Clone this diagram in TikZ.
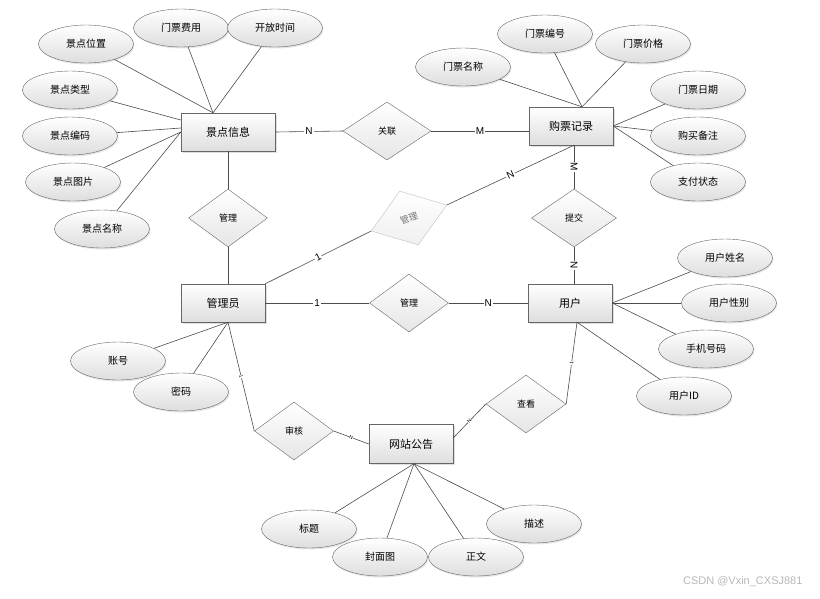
\documentclass[tikz,border=0pt]{standalone}
\usepackage{fontspec}
\setmainfont{Liberation Sans}
\newfontfamily\cjk{Noto Sans CJK SC}
\usetikzlibrary{shapes.geometric, positioning, calc, shadows}

\begin{document}
\begin{tikzpicture}[
    x=1pt, y=-1pt,
    entity/.style={rectangle, draw=black!60, top color=white, bottom color=black!13, minimum width=84, minimum height=38, font=\cjk\fontsize{11}{13}\selectfont, drop shadow={shadow xshift=1.5pt, shadow yshift=-1.5pt, opacity=0.25}},
    attr/.style={ellipse, draw=black!60, top color=white, bottom color=black!13, minimum width=95, minimum height=38, inner sep=0pt, font=\cjk\fontsize{10}{12}\selectfont, drop shadow={shadow xshift=1pt, shadow yshift=-1.5pt, opacity=0.2}},
    rel/.style={diamond, draw=black!60, top color=white, bottom color=black!10, minimum width=79, minimum height=58, inner sep=0pt, font=\cjk\fontsize{9}{11}\selectfont},
    link/.style={draw=black!70, line width=0.6pt},
    card/.style={fill=white, inner sep=1pt, font=\fontsize{10}{12}\selectfont},
    tiny/.style={fill=white, inner sep=0.3pt, font=\fontsize{5}{6}\selectfont, sloped}
]
    \useasboundingbox (0,0) rectangle (820,598);

    % entities
    \node[entity, minimum width=94] (jdxx) at (228,132) {景点信息};
    \node[entity] (gpjl) at (571,126) {购票记录};
    \node[entity] (gly) at (223,303) {管理员};
    \node[entity] (yh) at (570,303) {用户};
    \node[entity, minimum height=39] (wzgg) at (411,444) {网站公告};

    % relationships
    \node[rel, minimum width=88] (gl0) at (387,131) {关联};
    \node[rel] (gl1) at (228,218) {管理};
    \node[rel, minimum width=80, minimum height=57, rotate=19, draw=black!25, text=black!55, bottom color=black!6] (gl2) at (409,218) {管理};
    \node[rel, minimum width=85] (tj) at (574,218) {提交};
    \node[rel] (gl3) at (409,303) {管理};
    \node[rel] (sh) at (294,431) {审核};
    \node[rel, minimum width=80] (ck) at (526,404) {查看};

    % attributes of 景点信息
    \node[attr] (jdwz) at (86,44) {景点位置};
    \node[attr] (mpfy) at (181,28) {门票费用};
    \node[attr] (kfsj) at (275,28) {开放时间};
    \node[attr] (jdlx) at (70,90) {景点类型};
    \node[attr] (jdbm) at (70,136) {景点编码};
    \node[attr] (jdtp) at (73,182) {景点图片};
    \node[attr] (jdmc) at (102,229) {景点名称};

    % attributes of 购票记录
    \node[attr] (mpmc) at (463,67) {门票名称};
    \node[attr] (mpbh) at (545,34) {门票编号};
    \node[attr] (mpjg) at (643,44) {门票价格};
    \node[attr] (mprq) at (698,90) {门票日期};
    \node[attr] (gmbz) at (698,136) {购买备注};
    \node[attr] (zfzt) at (698,182) {支付状态};

    % attributes of 管理员
    \node[attr] (zh) at (118,361) {账号};
    \node[attr] (mm) at (181,392) {密码};

    % attributes of 用户
    \node[attr] (yhxm) at (725,258) {用户姓名};
    \node[attr] (yhxb) at (729,303) {用户性别};
    \node[attr] (sjhm) at (706,349) {手机号码};
    \node[attr] (yhid) at (684,396) {用户ID};

    % attributes of 网站公告
    \node[attr] (bt) at (309,529) {标题};
    \node[attr] (fmt) at (380,557) {封面图};
    \node[attr] (zw) at (476,557) {正文};
    \node[attr] (ms) at (534,524) {描述};

    \node[text=black!28, font=\fontsize{11}{13}\selectfont, anchor=east] (mark) at (806,582) {CSDN @Vxin\_CXSJ881};

    % attribute links
    \foreach \a in {jdwz, mpfy, kfsj}
        \draw[link] (\a) -- ([xshift=-15]jdxx.north);
    \draw[link] (jdlx) -- ([yshift=12]jdxx.west);
    \draw[link] (jdbm) -- ([yshift=4]jdxx.west);
    \foreach \a in {jdtp, jdmc}
        \draw[link] (\a) -- (jdxx.west);
    \foreach \a in {mpmc, mpbh, mpjg}
        \draw[link] (\a) -- ([xshift=11]gpjl.north);
    \foreach \a in {mprq, gmbz, zfzt}
        \draw[link] (\a) -- (gpjl.east);
    \foreach \a in {zh, mm}
        \draw[link] (\a) -- ([xshift=5]gly.south);
    \foreach \a in {yhxm, yhxb, sjhm}
        \draw[link] (\a) -- (yh.east);
    \draw[link] (yhid) -- ([xshift=7]yh.south);
    \foreach \a in {bt, fmt, zw, ms}
        \draw[link] (\a) -- ([xshift=3]wzgg.south);

    % relationship links
    \draw[link] (jdxx.east) -- node[card] {N} (gl0.west);
    \draw[link] (gl0.east) -- node[card] {M} (gl0.east -| gpjl.west);
    \draw[link] (jdxx.south -| gl1.north) -- (gl1.north);
    \draw[link] (gl1.south) -- (gl1.south |- gly.north);
    \draw[link] (gly.north east) -- node[card, sloped] {1} (gl2.west);
    \draw[link] (gl2.east) -- node[card, sloped] {N} ([xshift=3]gpjl.south);
    \draw[link] (gpjl.south -| tj.north) -- node[card, rotate=-90] {M} (tj.north);
    \draw[link] (tj.south) -- node[card, rotate=-90] {N} (tj.south |- yh.north);
    \draw[link] (gly.east) -- node[card] {1} (gl3.west);
    \draw[link] (gl3.east) -- node[card] {N} (yh.west);
    \draw[link] ([xshift=5]gly.south) -- node[tiny] {1} (sh.west);
    \draw[link] (sh.east) -- node[tiny] {N} (wzgg.west);
    \draw[link] ([yshift=6]wzgg.east) -- node[tiny] {N} (ck.west);
    \draw[link] (ck.east) -- node[tiny] {1} ([xshift=7]yh.south);
\end{tikzpicture}
\end{document}
